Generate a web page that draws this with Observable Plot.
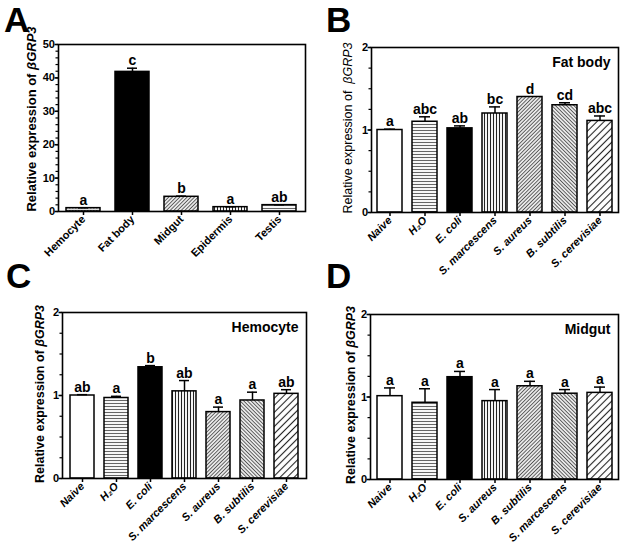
<!DOCTYPE html>
<html><head><meta charset="utf-8">
<script src="https://cdn.jsdelivr.net/npm/d3@7"></script>
<script src="https://cdn.jsdelivr.net/npm/@observablehq/plot@0.6"></script>
<style>
body{margin:0;background:#fff;}
#wrap{position:relative;width:624px;height:546px;overflow:hidden;}
.panel{position:absolute;}
</style></head><body>
<div id="wrap">
<svg width="0" height="0" style="position:absolute">
<defs>
<pattern id="pWhite" width="4" height="4" patternUnits="userSpaceOnUse"><rect width="4" height="4" fill="white"/></pattern>
<pattern id="pBlack" width="4" height="4" patternUnits="userSpaceOnUse"><rect width="4" height="4" fill="black"/></pattern>
<pattern id="pHoriz" width="4" height="3" patternUnits="userSpaceOnUse"><rect width="4" height="3" fill="white"/><line x1="0" y1="1.5" x2="4" y2="1.5" stroke="#666" stroke-width="1.1"/></pattern>
<pattern id="pVert" width="3" height="4" patternUnits="userSpaceOnUse"><rect width="3" height="4" fill="white"/><line x1="1.5" y1="0" x2="1.5" y2="4" stroke="#222" stroke-width="1.1"/></pattern>
<pattern id="pD1" width="2.6" height="4" patternUnits="userSpaceOnUse" patternTransform="rotate(45)"><rect width="2.6" height="4" fill="white"/><line x1="1.3" y1="0" x2="1.3" y2="4" stroke="#555" stroke-width="1.1"/></pattern>
<pattern id="pD2" width="2.6" height="4" patternUnits="userSpaceOnUse" patternTransform="rotate(-45)"><rect width="2.6" height="4" fill="white"/><line x1="1.3" y1="0" x2="1.3" y2="4" stroke="#555" stroke-width="1.1"/></pattern>
<pattern id="pD3" width="5" height="4" patternUnits="userSpaceOnUse" patternTransform="rotate(45)"><rect width="5" height="4" fill="white"/><line x1="2.5" y1="0" x2="2.5" y2="4" stroke="#222" stroke-width="1.1"/></pattern>
<pattern id="pCross" width="3" height="3" patternUnits="userSpaceOnUse"><rect width="3" height="3" fill="#ddd"/><rect x="0" y="0" width="1.5" height="1.5" fill="#666"/></pattern>
</defs>
</svg>
</div>
<script>
// ---- data ----
const tissues = ["Hemocyte", "Fat body", "Midgut", "Epidermis", "Testis"];
const tissueMean = [1.0, 41.8, 4.4, 1.3, 1.9];
const tissueErr = [0.1, 1.1, 0.2, 0.1, 0.1];
const tissueLetters = ["a", "c", "b", "a", "ab"];

const treatmentsBC = ["Naive", "H₂O", "E. coli", "S. marcescens", "S. aureus", "B. subtilis", "S. cerevisiae"];
const treatmentsD = ["Naive", "H₂O", "E. coli", "S. aureus", "B. subtilis", "S. marcescens", "S. cerevisiae"];

const fatMean = [1.00, 1.10, 1.02, 1.20, 1.40, 1.30, 1.11];
const fatErr = [0.01, 0.06, 0.03, 0.08, 0.0, 0.03, 0.06];
const fatLetters = ["a", "abc", "ab", "bc", "d", "cd", "abc"];

const hemoMean = [1.00, 0.97, 1.34, 1.05, 0.80, 0.94, 1.02];
const hemoErr = [0.01, 0.02, 0.02, 0.13, 0.06, 0.10, 0.05];
const hemoLetters = ["ab", "a", "b", "ab", "a", "a", "ab"];

const midMean = [1.01, 0.93, 1.24, 0.95, 1.13, 1.04, 1.05];
const midErr = [0.10, 0.17, 0.07, 0.14, 0.06, 0.05, 0.07];
const midLetters = ["a", "a", "a", "a", "a", "a", "a"];

const yTicksA = [0, 10, 20, 30, 40, 50];
const yTicksB = [0, 1, 2];

// ---- styles ----
const patsA = ["url(#pCross)", "url(#pBlack)", "url(#pD1)", "url(#pVert)", "url(#pHoriz)"];
const patsT = ["url(#pWhite)", "url(#pHoriz)", "url(#pBlack)", "url(#pVert)", "url(#pD1)", "url(#pD2)", "url(#pD3)"];
const FONT = '"Liberation Sans", Arial, Helvetica, sans-serif';

function panel(o) {
  const rows = o.cats.map((c, i) => ({c, m: o.mean[i], e: o.err[i], top: o.mean[i] + o.err[i], l: o.letters[i], p: o.pats[i]}));
  const marks = [
    Plot.barY(rows, {x: "c", y: "m", fill: "p", stroke: "black", strokeWidth: 1.5}),
    Plot.ruleX(rows.filter(d => d.e > 0), {x: "c", y1: "m", y2: "top", stroke: "black", strokeWidth: 1.5}),
    Plot.tickY(rows.filter(d => d.e > 0), {x: "c", y: "top", stroke: "black", strokeWidth: 1.5, insetLeft: o.capInset, insetRight: o.capInset}),
    Plot.text(rows, {x: "c", y: "top", text: "l", dy: -3, lineAnchor: "bottom", fontSize: 14, fontWeight: "bold"}),
    Plot.frame({stroke: "black", strokeWidth: 1.6}),
    Plot.axisY({ticks: o.yMajor, tickFormat: () => "", tickSize: 3.5, strokeWidth: 1.5, label: null}),
    Plot.axisY({ticks: o.yMinor, tickSize: 2.5, tickFormat: () => "", strokeWidth: 1.2, label: null}),
    Plot.text(o.yMajor, {y: d => d, text: d => String(d), frameAnchor: "left", textAnchor: "end", dx: -3.5, fontSize: 11, fontWeight: "bold", fill: "black"}),
    Plot.axisX({tickSize: 4, tickPadding: 2, tickRotate: -45, fontSize: 11, fontWeight: "bold", fontStyle: o.italic ? "italic" : "normal", strokeWidth: 1.5, label: null})
  ];
  if (o.title) marks.push(Plot.text([o.title], {frameAnchor: "top-right", dx: -8, dy: 10, lineAnchor: "top", fontSize: 14, fontWeight: "bold"}));
  const svg = Plot.plot({
    width: 312, height: 273,
    marginLeft: o.ml, marginRight: o.mr, marginTop: o.mt, marginBottom: o.mb,
    style: {fontFamily: FONT, background: "transparent", overflow: "visible", color: "black"},
    x: {type: "band", domain: o.cats, paddingInner: 0.3, paddingOuter: 0.15, axis: null},
    y: {domain: [0, o.yMax], axis: null},
    color: {type: "identity"},
    marks
  });
  const t = d3.select(svg).append("text")
    .attr("transform", `translate(${o.lx},${o.ly}) rotate(-90)`)
    .attr("text-anchor", "middle").attr("font-family", FONT)
    .attr("font-size", o.lsize).attr("font-weight", o.lweight).attr("fill", "black");
  t.append("tspan").text(o.lspace ? "Relative expression of\u00a0 " : "Relative expression of ");
  t.append("tspan").attr("font-style", "italic").text("βGRP3");
  svg.classList.add("panel");
  svg.style.left = o.left + "px";
  svg.style.top = o.top + "px";
  document.getElementById("wrap").appendChild(svg);
}

panel({left: 0, top: 0, cats: tissues, mean: tissueMean, err: tissueErr, letters: tissueLetters, pats: patsA,
  yMax: 50, yMajor: yTicksA, yMinor: d3.range(0, 50.1, 2), ml: 58, mr: 7, mt: 44, mb: 62, italic: false,
  capInset: 12, lx: 36, ly: 119, lsize: 13, lweight: "bold"});
panel({left: 312, top: 0, cats: treatmentsBC, mean: fatMean, err: fatErr, letters: fatLetters, pats: patsT,
  yMax: 2, yMajor: yTicksB, yMinor: d3.range(0, 2.01, 0.25), ml: 59, mr: 6, mt: 47, mb: 61, italic: true,
  capInset: 7, lx: 40, ly: 128, lsize: 12.5, lweight: "normal", lspace: true, title: "Fat body"});
panel({left: 0, top: 273, cats: treatmentsBC, mean: hemoMean, err: hemoErr, letters: hemoLetters, pats: patsT,
  yMax: 2, yMajor: yTicksB, yMinor: d3.range(0, 2.01, 0.25), ml: 62, mr: 6, mt: 39, mb: 68, italic: true,
  capInset: 7, lx: 44, ly: 121, lsize: 12.5, lweight: "bold", title: "Hemocyte"});
panel({left: 312, top: 273, cats: treatmentsD, mean: midMean, err: midErr, letters: midLetters, pats: patsT,
  yMax: 2, yMajor: yTicksB, yMinor: d3.range(0, 2.01, 0.25), ml: 58, mr: 6, mt: 41, mb: 67, italic: true,
  capInset: 7, lx: 43, ly: 122, lsize: 12.5, lweight: "bold", title: "Midgut"});

// panel letters
const ov = d3.select("#wrap").append("svg").attr("width", 624).attr("height", 546)
  .style("position", "absolute").style("left", 0).style("top", 0).style("pointer-events", "none");
const panelLetters = [["A", 4, 32], ["B", 326, 32], ["C", 6, 288], ["D", 326, 288]];
ov.selectAll("text").data(panelLetters).join("text")
  .attr("x", d => d[1]).attr("y", d => d[2]).text(d => d[0])
  .attr("font-family", FONT).attr("font-weight", "bold").attr("font-size", 35).attr("fill", "black");
</script>
</body></html>
